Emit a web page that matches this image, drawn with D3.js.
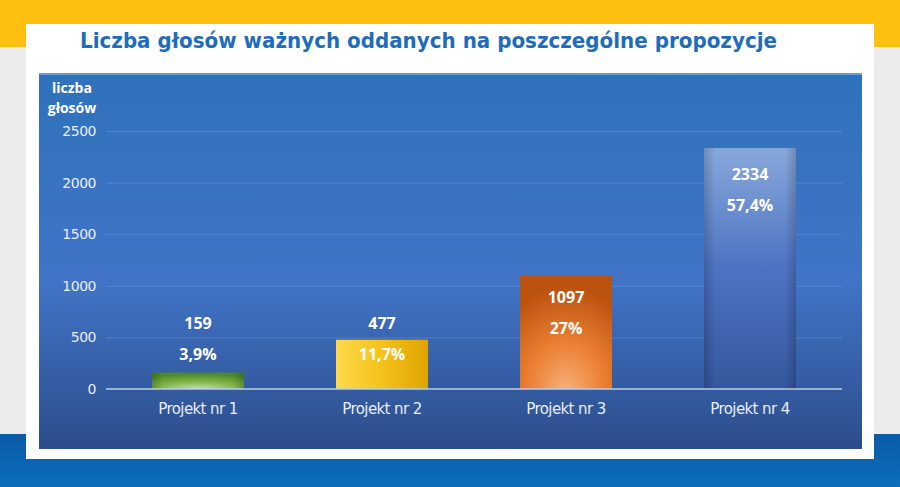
<!DOCTYPE html>
<html><head><meta charset="utf-8">
<script src="https://cdn.jsdelivr.net/npm/d3@7/dist/d3.min.js"></script>
<style>html,body{margin:0;padding:0;background:#ececec;}svg{display:block;}</style>
</head><body>
<svg id="c" width="900" height="487"></svg>
<script>
const categories = ["Projekt nr 1","Projekt nr 2","Projekt nr 3","Projekt nr 4"];
const votes = [159, 477, 1097, 2334];
const percents = ["3,9%","11,7%","27%","57,4%"];
const labelAnchor = [640, 640, 890, 2085]; // value-units where the vote label sits
const yTicks = [0, 500, 1000, 1500, 2000, 2500];
const title = "Liczba głosów ważnych oddanych na poszczególne propozycje";
const yTitle = ["liczba","głosów"];

const svg = d3.select("#c");
const defs = svg.append("defs");

// background bands
svg.append("rect").attr("x",0).attr("y",0).attr("width",900).attr("height",47).attr("fill","#fdc010");
svg.append("rect").attr("x",0).attr("y",47).attr("width",900).attr("height",387).attr("fill","#ececec");
const bb = defs.append("linearGradient").attr("id","bb").attr("x1",0).attr("x2",0).attr("y1",0).attr("y2",1);
bb.append("stop").attr("offset","0").attr("stop-color","#0b5aa6");
bb.append("stop").attr("offset","1").attr("stop-color","#0a6fbd");
svg.append("rect").attr("x",0).attr("y",434).attr("width",900).attr("height",53).attr("fill","url(#bb)");
// white card
svg.append("rect").attr("x",26).attr("y",24).attr("width",848).attr("height",435).attr("fill","#ffffff");

// title
svg.append("text").attr("x",80).attr("y",48).attr("fill","#1f6cbb")
  .attr("font-family","'DejaVu Sans', sans-serif").attr("font-weight","bold").attr("font-size",21)
  .attr("textLength",697).attr("lengthAdjust","spacingAndGlyphs").text(title);

// panel
const pg = defs.append("linearGradient").attr("id","pg").attr("x1",0).attr("x2",0).attr("y1",0).attr("y2",1);
pg.append("stop").attr("offset","0").attr("stop-color","#2f72bb");
pg.append("stop").attr("offset","0.55").attr("stop-color","#4174c6");
pg.append("stop").attr("offset","1").attr("stop-color","#2c4d8c");
svg.append("rect").attr("x",39).attr("y",74).attr("width",823).attr("height",375).attr("fill","url(#pg)");
svg.append("rect").attr("x",39).attr("y",73).attr("width",823).attr("height",2).attr("fill","#6b9ad6");

const x = d3.scaleBand().domain(categories).range([106,842]).paddingInner(0.5).paddingOuter(0.25);
const y = d3.scaleLinear().domain([0,2500]).range([389,131]);

// gridlines
svg.append("g").attr("transform","translate(106,0)")
  .call(d3.axisLeft(y).tickValues(yTicks.slice(1)).tickSize(-736).tickFormat(""))
  .call(g=>g.select(".domain").remove())
  .call(g=>g.selectAll("line").attr("stroke","#5f93d8").attr("stroke-width",1).attr("opacity",0.6));

// y tick labels
svg.append("g").attr("transform","translate(96,0)")
  .call(d3.axisLeft(y).tickValues(yTicks).tickSize(0).tickPadding(0).tickFormat(d3.format("d")))
  .call(g=>g.select(".domain").remove())
  .call(g=>g.selectAll("text").attr("fill","#e8eef8").attr("font-family","'DejaVu Sans', sans-serif")
    .attr("font-size",14).attr("font-weight","normal").attr("letter-spacing","-0.5"));

// y title
svg.append("text").attr("x",72).attr("y",93).attr("text-anchor","middle").attr("fill","#fff")
  .attr("font-family","'Open Sans', sans-serif").attr("font-weight","bold").attr("font-size",14)
  .selectAll("tspan").data(yTitle).join("tspan").attr("x",72).attr("dy",(d,i)=>i?20:0).text(d=>d);

// gradients for bars
function hgrad(id, stops){
  const g = defs.append("linearGradient").attr("id",id).attr("x1",0).attr("x2",1).attr("y1",0).attr("y2",0);
  stops.forEach(s=>g.append("stop").attr("offset",s[0]).attr("stop-color",s[1]));
}
function vgrad(id, stops){
  const g = defs.append("linearGradient").attr("id",id).attr("x1",0).attr("x2",0).attr("y1",0).attr("y2",1);
  stops.forEach(s=>g.append("stop").attr("offset",s[0]).attr("stop-color",s[1]));
}
function rgrad(id, stops){
  const g = defs.append("radialGradient").attr("id",id).attr("cx",0.5).attr("cy",1).attr("r",0.9).attr("fx",0.5).attr("fy",1);
  stops.forEach(s=>g.append("stop").attr("offset",s[0]).attr("stop-color",s[1]));
}
rgrad("g0",[["0","#c4e3a6"],["0.5","#7fb548"],["1","#4c8a2a"]]);
hgrad("g1",[["0","#fbd94a"],["0.5","#f6c21c"],["1","#dfa300"]]);
rgrad("g2",[["0","#f6b07a"],["0.45","#ec8033"],["1","#bb520f"]]);
vgrad("g3",[["0","#88a8db"],["0.5","#4d73c2"],["1","#34569c"]]);
const fills = ["url(#g0)","url(#g1)","url(#g2)","url(#g3)"];
const shadeG = defs.append("linearGradient").attr("id","sh").attr("x1",0).attr("x2",1);
shadeG.append("stop").attr("offset","0").attr("stop-color","#000").attr("stop-opacity",0.18);
shadeG.append("stop").attr("offset","0.12").attr("stop-color","#000").attr("stop-opacity",0);
shadeG.append("stop").attr("offset","0.88").attr("stop-color","#000").attr("stop-opacity",0);
shadeG.append("stop").attr("offset","1").attr("stop-color","#000").attr("stop-opacity",0.18);

const data = categories.map((c,i)=>({c, v:votes[i], p:percents[i], la:labelAnchor[i], f:fills[i]}));
svg.append("g").selectAll("rect").data(data).join("rect")
  .attr("x",d=>x(d.c)).attr("width",x.bandwidth()).attr("y",d=>y(d.v)).attr("height",d=>y(0)-y(d.v))
  .attr("fill",d=>d.f);
svg.append("g").selectAll("rect").data(data.filter((d,i)=>i===3||i===0)).join("rect")
  .attr("x",d=>x(d.c)).attr("width",x.bandwidth()).attr("y",d=>y(d.v)).attr("height",d=>y(0)-y(d.v))
  .attr("fill","url(#sh)");

// zero line
svg.append("line").attr("x1",106).attr("x2",842).attr("y1",y(0)).attr("y2",y(0))
  .attr("stroke","#b8cdee").attr("stroke-width",1.5);

// category labels
svg.append("g").attr("transform",`translate(0,${y(0)})`)
  .call(d3.axisBottom(x).tickSize(0).tickPadding(14))
  .call(g=>g.select(".domain").remove())
  .call(g=>g.selectAll("text").attr("fill","#e6edf8").attr("font-family","'DejaVu Sans', sans-serif")
    .attr("font-size",15).attr("letter-spacing","-0.6"));

// value labels
const lab = svg.append("g").attr("fill","#fff").attr("font-family","'Open Sans', sans-serif")
  .attr("font-weight","bold").attr("font-size",16).attr("text-anchor","middle");
lab.selectAll("text.v").data(data).join("text").attr("class","v")
  .attr("x",d=>x(d.c)+x.bandwidth()/2).attr("y",d=>y(d.la)+6).text(d=>d.v);
lab.selectAll("text.p").data(data).join("text").attr("class","p")
  .attr("x",d=>x(d.c)+x.bandwidth()/2).attr("y",d=>y(d.la)+37).text(d=>d.p);
</script>
</body></html>
